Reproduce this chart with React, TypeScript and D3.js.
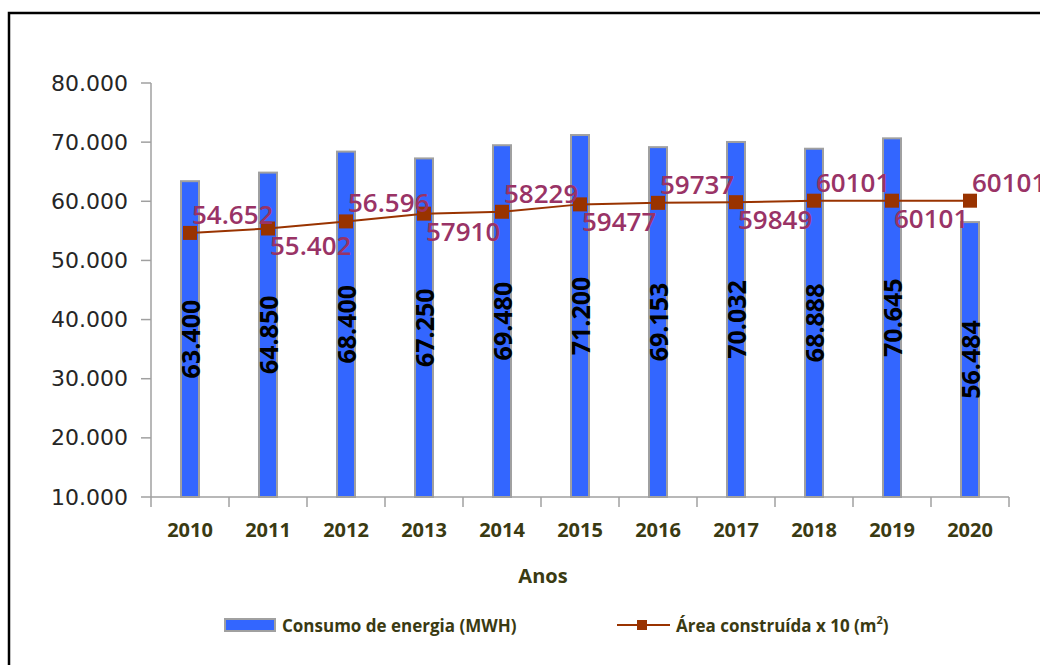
import React from "react";
import * as d3 from "d3";

const years = ["2010", "2011", "2012", "2013", "2014", "2015", "2016", "2017", "2018", "2019", "2020"];
const consumo = [63400, 64850, 68400, 67250, 69480, 71200, 69153, 70032, 68888, 70645, 56484];
const consumoLabels = ["63.400", "64.850", "68.400", "67.250", "69.480", "71.200", "69.153", "70.032", "68.888", "70.645", "56.484"];
const area = [54652, 55402, 56596, 57910, 58229, 59477, 59737, 59849, 60101, 60101, 60101];
const areaLabels = ["54.652", "55.402", "56.596", "57910", "58229", "59477", "59737", "59849", "60101", "60101", "60101"];
const yTicks = [10000, 20000, 30000, 40000, 50000, 60000, 70000, 80000];

const W = 1040;
const H = 665;
const FONT = "'Open Sans', 'Noto Sans', sans-serif";
const AXIS_TXT = "#3a3a12";

export default function App() {
  const x = d3.scaleBand().domain(years).range([151, 1009]).padding(0);
  const y = d3.scaleLinear().domain([10000, 80000]).range([497, 83]);
  const cx = (d: string) => (x(d) as number) + x.bandwidth() / 2;
  const fmt = (v: number) => d3.format(",")(v).replace(/,/g, ".");

  const line = d3
    .line<number>()
    .x((_, i) => cx(years[i]))
    .y((d) => y(d));

  const barW = 18;

  return (
    <svg width={W} height={H} style={{ position: "absolute", left: 0, top: 0, background: "#fff" }}>
      <rect x={9} y={13} width={1100} height={700} fill="#fff" stroke="#000" strokeWidth={2.5} />

      {/* y axis */}
      <line x1={151} x2={151} y1={y(80000)} y2={y(10000)} stroke="#a0a0a0" strokeWidth={1.5} />
      {yTicks.map((t) => (
        <g key={t}>
          <line x1={141} x2={151} y1={y(t)} y2={y(t)} stroke="#a0a0a0" strokeWidth={1.5} />
          <text x={128} y={y(t)} textAnchor="end" dominantBaseline="central" fontFamily="'DejaVu Sans', sans-serif" fontSize={22} fill="#262626">
            {fmt(t)}
          </text>
        </g>
      ))}

      {/* x axis */}
      <line x1={151} x2={1009} y1={y(10000)} y2={y(10000)} stroke="#a0a0a0" strokeWidth={1.5} />
      {years.map((yr) => (
        <line key={"t" + yr} x1={x(yr)} x2={x(yr)} y1={497} y2={507} stroke="#a0a0a0" strokeWidth={1.5} />
      ))}
      <line x1={1009} x2={1009} y1={497} y2={507} stroke="#a0a0a0" strokeWidth={1.5} />
      {years.map((yr) => (
        <text key={"l" + yr} x={cx(yr)} y={529} textAnchor="middle" dominantBaseline="central" fontFamily={FONT} fontWeight="bold" fontSize={20} fill={AXIS_TXT}>
          {yr}
        </text>
      ))}
      <text x={543} y={575} textAnchor="middle" dominantBaseline="central" fontFamily={FONT} fontWeight="bold" fontSize={20} fill={AXIS_TXT}>
        Anos
      </text>

      {/* bars */}
      {consumo.map((v, i) => (
        <rect key={"b" + i} x={cx(years[i]) - barW / 2} y={y(v)} width={barW} height={y(10000) - y(v)} fill="#3366ff" stroke="#a0a0a0" strokeWidth={2} />
      ))}

      {/* line */}
      <path d={line(area) as string} fill="none" stroke="#993300" strokeWidth={2} />
      {area.map((v, i) => (
        <rect key={"m" + i} x={cx(years[i]) - 7} y={y(v) - 7} width={14} height={14} fill="#993300" />
      ))}

      {/* bar labels */}
      {consumo.map((v, i) => {
        const px = cx(years[i]);
        const py = (y(v) + y(10000)) / 2;
        return (
          <text key={"bl" + i} transform={`translate(${px},${py}) rotate(-90)`} textAnchor="middle" dominantBaseline="central" fontFamily={FONT} fontWeight="bold" fontSize={25} fill="#000">
            {consumoLabels[i]}
          </text>
        );
      })}

      {/* line labels */}
      {area.map((v, i) => (
        <text key={"al" + i} x={cx(years[i]) + 2} y={y(v) + (i % 2 === 0 ? -19 : 17)} dominantBaseline="central" fontFamily={FONT} fontWeight={600} fontSize={26} fill="#993366">
          {areaLabels[i]}
        </text>
      ))}

      {/* legend */}
      <rect x={225} y={619} width={50} height={12} fill="#3366ff" stroke="#a0a0a0" strokeWidth={2} />
      <text x={282} y={625} dominantBaseline="central" fontFamily={FONT} fontWeight="bold" fontSize={17} fill={AXIS_TXT}>
        Consumo de energia (MWH)
      </text>
      <line x1={617} x2={670} y1={625} y2={625} stroke="#993300" strokeWidth={2} />
      <rect x={637} y={620} width={10} height={10} fill="#993300" />
      <text x={676} y={625} dominantBaseline="central" fontFamily={FONT} fontWeight="bold" fontSize={17} fill={AXIS_TXT}>
        Área construída x 10 (m<tspan dy={-6} fontSize={11}>2</tspan><tspan dy={6}>)</tspan>
      </text>
    </svg>
  );
}
